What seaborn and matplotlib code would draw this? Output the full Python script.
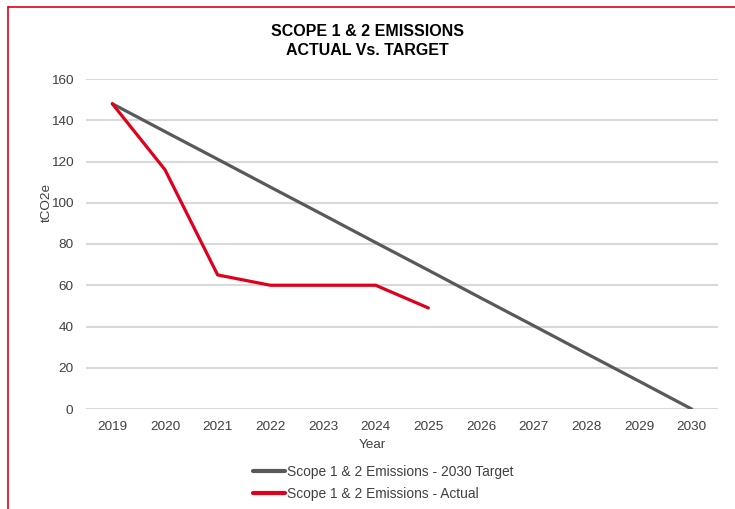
import numpy as np
import pandas as pd
import matplotlib.pyplot as plt
from matplotlib.lines import Line2D
import seaborn as sns

years = [str(y) for y in range(2019, 2031)]
target = [148, 134.5, 121.1, 107.6, 94.2, 80.7, 67.3, 53.8, 40.4, 26.9, 13.5, 0]
actual = [148, 116, 65, 60, 60, 60, 49]
target_name = "Scope 1 & 2 Emissions - 2030 Target"
actual_name = "Scope 1 & 2 Emissions - Actual"

df = pd.concat([
    pd.DataFrame({"Year": years, "tCO2e": target, "series": target_name}),
    pd.DataFrame({"Year": years[:len(actual)], "tCO2e": actual, "series": actual_name}),
])

sns.set_theme(style="white")
plt.rcParams['font.family'] = ['Liberation Sans', 'DejaVu Sans']

fig = plt.figure(figsize=(7.35, 5.09), dpi=100)
ax = fig.add_axes([86/735, 1 - 409/509, 632/735, 330/509])

sns.lineplot(data=df, x="Year", y="tCO2e", hue="series", sort=False,
             palette={target_name: "#595959", actual_name: "#E0001B"},
             linewidth=2.3, ax=ax, legend=False)

ax.set_xlim(-0.5, len(years) - 0.5)
ax.set_ylim(0, 160)
ax.set_yticks(range(0, 161, 20))
ax.yaxis.grid(True, color="#D9D9D9", linewidth=1.5)
ax.xaxis.grid(False)
ax.set_axisbelow(True)
for s in ax.spines.values():
    s.set_visible(False)
ax.tick_params(axis="both", length=0, labelsize=9.7, colors="#404040")
ax.tick_params(axis="x", pad=9)
ax.tick_params(axis="y", pad=9)
ax.set_xlabel("Year", fontsize=9.7, color="#404040")
ax.set_ylabel("tCO2e", fontsize=9.7, color="#404040")
ax.xaxis.set_label_coords(0.4525, -0.09)
ax.yaxis.set_label_coords(-0.052, 0.627)

fig.text(0.5, 1 - 41/509, "SCOPE 1 & 2 EMISSIONS\nACTUAL Vs. TARGET", ha="center", va="center",
         fontsize=11.5, fontweight="bold", color="black", linespacing=1.35)

handles = [Line2D([], [], color="#595959", linewidth=3),
           Line2D([], [], color="#E0001B", linewidth=3)]
fig.legend(handles, [target_name, actual_name], loc="upper left",
           bbox_to_anchor=(246/735, 1 - 458/509), frameon=False, fontsize=9.9,
           handlelength=2.35, handletextpad=0.15, labelspacing=0.6, borderpad=0,
           labelcolor="#404040")

# red frame at the left and top edges
fig.add_artist(Line2D([8/735, 8/735], [0, 1 - 7/509], color="#E0001B", linewidth=1.2))
fig.add_artist(Line2D([8/735, 1], [1 - 7/509, 1 - 7/509], color="#E0001B", linewidth=1.2))

fig.savefig("out.png", dpi=100)
